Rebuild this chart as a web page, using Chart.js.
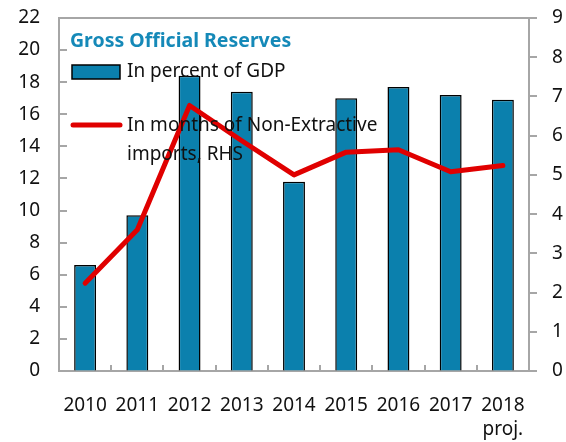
<!DOCTYPE html>
<html>
<head>
<meta charset="utf-8">
<script src="https://cdn.jsdelivr.net/npm/chart.js@4/dist/chart.umd.min.js"></script>
<style>
  body { margin: 0; background: #fff; }
  canvas { display: block; }
</style>
</head>
<body>
<canvas id="reservesChart" width="566" height="442"></canvas>
<script>
// Data
const years = ['2010', '2011', '2012', '2013', '2014', '2015', '2016', '2017', ['2018', 'proj.']];
const percentOfGdp = [6.6, 9.7, 18.4, 17.4, 11.8, 17.0, 17.7, 17.2, 16.9];
const monthsOfImports = [2.24, 3.6, 6.77, 5.87, 5.0, 5.58, 5.64, 5.08, 5.24];
const leftAxisTicks = [0, 2, 4, 6, 8, 10, 12, 14, 16, 18, 20, 22];
const rightAxisTicks = [0, 1, 2, 3, 4, 5, 6, 7, 8, 9];

const legendTitle = 'Gross Official Reserves';
const barLabel = 'In percent of GDP';
const lineLabel = ['In months of Non-Extractive', 'imports, RHS'];

Chart.defaults.font.family = "'Noto Sans', 'Open Sans', sans-serif";
Chart.defaults.font.size = 19;
Chart.defaults.color = '#111';

const axisGrey = '#a6a6a6';
const barBlue = '#0b80ad';
const lineRed = '#e00000';

// fixed axis box sizes so the plot area lands where the reference has it
function fixBox(size) {
    return s => {
        if (s.isHorizontal()) s.height = size; else s.width = size;
        s.paddingTop = 0;
        s.paddingBottom = 0;
        s.paddingLeft = 0;
        s.paddingRight = 0;
    };
}

// Inward tick marks on the left and bottom axes, plus the top frame line
const frameTicks = {
    id: 'frameTicks',
    afterDraw(chart) {
        const { ctx, chartArea } = chart;
        const y = chart.scales.y;
        const x = chart.scales.x;
        ctx.save();
        ctx.strokeStyle = axisGrey;
        ctx.lineWidth = 2;
        ctx.beginPath();
        ctx.moveTo(chartArea.left - 1, chartArea.top);
        ctx.lineTo(chartArea.right + 1, chartArea.top);
        y.ticks.forEach(t => {
            if (t.value === 0) return;
            const py = Math.round(y.getPixelForValue(t.value));
            ctx.moveTo(chartArea.left, py);
            ctx.lineTo(chartArea.left + 8, py);
        });
        const step = x.getPixelForValue(1) - x.getPixelForValue(0);
        for (let i = 0; i < years.length - 1; i++) {
            const px = Math.round(x.getPixelForValue(i) + step / 2);
            ctx.moveTo(px, chartArea.bottom);
            ctx.lineTo(px, chartArea.bottom - 6);
        }
        ctx.stroke();
        ctx.restore();
    }
};

// Legend drawn inside the plot, top left
const insideLegend = {
    id: 'insideLegend',
    afterDatasetsDraw(chart) {
        const { ctx, chartArea } = chart;
        const left = chartArea.left + 11;
        const top = chartArea.top;
        ctx.save();
        ctx.textBaseline = 'middle';
        ctx.textAlign = 'left';

        ctx.font = "bold 19.5px 'Noto Sans', sans-serif";
        ctx.fillStyle = '#1589b8';
        ctx.fillText(legendTitle, left, top + 23);

        ctx.font = "19px 'Noto Sans', sans-serif";
        ctx.fillStyle = barBlue;
        ctx.strokeStyle = '#000';
        ctx.lineWidth = 1.5;
        ctx.fillRect(left + 2, top + 47, 48, 14);
        ctx.strokeRect(left + 2, top + 47, 48, 14);
        ctx.fillStyle = '#111';
        ctx.fillText(barLabel, left + 57, top + 54);

        ctx.strokeStyle = lineRed;
        ctx.lineWidth = 5;
        ctx.lineCap = 'round';
        ctx.beginPath();
        ctx.moveTo(left + 3, top + 107);
        ctx.lineTo(left + 50, top + 107);
        ctx.stroke();
        ctx.fillStyle = '#111';
        ctx.fillText(lineLabel[0], left + 57, top + 108);
        ctx.fillText(lineLabel[1], left + 57, top + 137);
        ctx.restore();
    }
};

new Chart(document.getElementById('reservesChart'), {
    data: {
        labels: years,
        datasets: [
            {
                type: 'line',
                label: lineLabel.join(' '),
                data: monthsOfImports,
                yAxisID: 'y1',
                borderColor: lineRed,
                borderWidth: 5,
                borderCapStyle: 'round',
                borderJoinStyle: 'round',
                pointRadius: 0,
                tension: 0,
                order: 1
            },
            {
                type: 'bar',
                label: barLabel,
                data: percentOfGdp,
                yAxisID: 'y',
                backgroundColor: barBlue,
                borderColor: '#000',
                borderWidth: 1.5,
                barPercentage: 0.42,
                categoryPercentage: 1,
                order: 2
            }
        ]
    },
    options: {
        responsive: false,
        animation: false,
        layout: { padding: { top: 18, left: 0, right: 0, bottom: 0 } },
        plugins: {
            legend: { display: false },
            tooltip: { enabled: false }
        },
        scales: {
            x: {
                afterFit: fixBox(71),
                grid: { drawOnChartArea: false, drawTicks: false },
                border: { color: axisGrey, width: 2 },
                ticks: { padding: 22, maxRotation: 0, font: { size: 19, lineHeight: 1.3 } }
            },
            y: {
                position: 'left',
                min: 0,
                max: 22,
                afterFit: fixBox(59),
                afterBuildTicks: scale => { scale.ticks = leftAxisTicks.map(v => ({ value: v })); },
                grid: { drawOnChartArea: false, drawTicks: false },
                border: { color: axisGrey, width: 2 },
                ticks: { padding: 19 }
            },
            y1: {
                position: 'right',
                min: 0,
                max: 9,
                afterFit: fixBox(37),
                afterBuildTicks: scale => { scale.ticks = rightAxisTicks.map(v => ({ value: v })); },
                grid: { drawOnChartArea: false, drawTicks: true, tickLength: 8, color: axisGrey, lineWidth: 2 },
                border: { color: axisGrey, width: 2 },
                ticks: { padding: 15 }
            }
        }
    },
    plugins: [frameTicks, insideLegend]
});
</script>
</body>
</html>
